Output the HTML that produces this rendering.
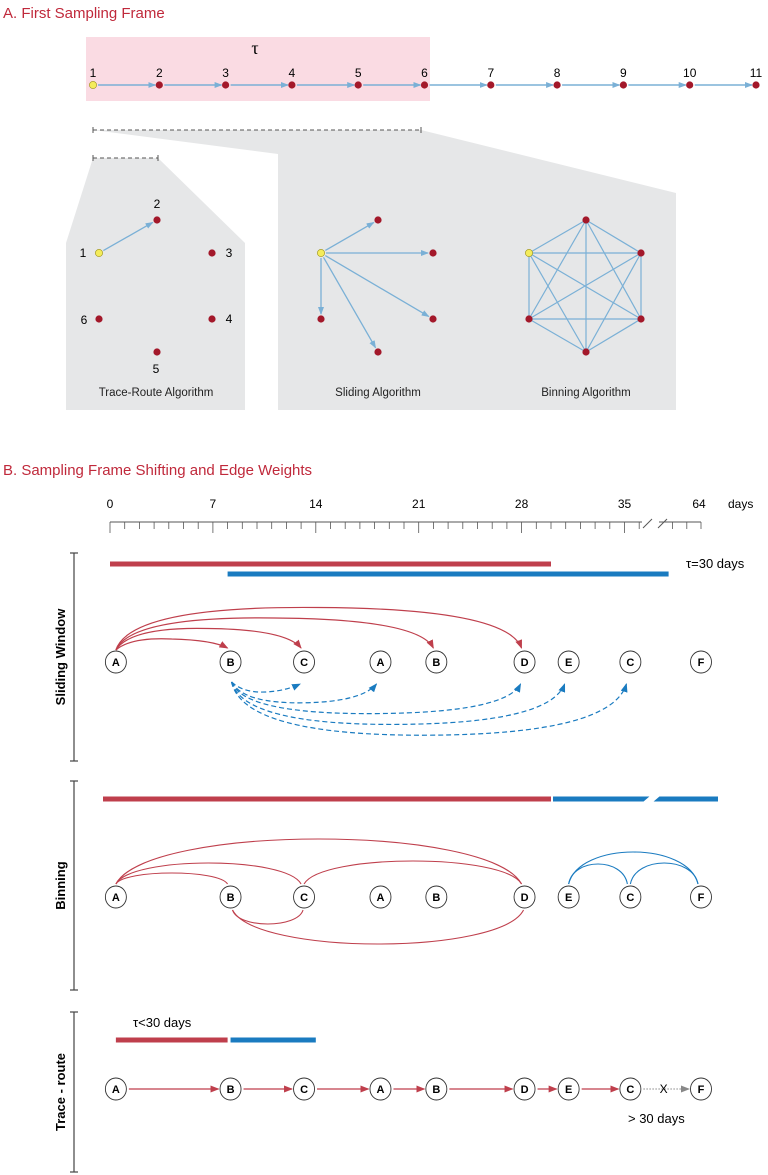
<!DOCTYPE html>
<html><head><meta charset="utf-8">
<style>
html,body{margin:0;padding:0;background:#fff;}
svg{display:block;font-family:"Liberation Sans",sans-serif;}
</style></head>
<body>
<svg id="fig" width="768" height="1175" viewBox="0 0 768 1175" xmlns="http://www.w3.org/2000/svg">
<defs>
<marker id="ab" markerWidth="8" markerHeight="6" refX="7" refY="3" orient="auto" markerUnits="userSpaceOnUse"><path d="M0,0 L8,3 L0,6 z" fill="#7ab0d6"/></marker>
<marker id="ar" markerWidth="9" markerHeight="7" refX="8" refY="3.5" orient="auto" markerUnits="userSpaceOnUse"><path d="M0,0 L9,3.5 L0,7 z" fill="#bf3f4c"/></marker>
<marker id="ad" markerWidth="9" markerHeight="7" refX="8" refY="3.5" orient="auto" markerUnits="userSpaceOnUse"><path d="M0,0 L9,3.5 L0,7 z" fill="#1a7bc0"/></marker>
<marker id="ag" markerWidth="9" markerHeight="7" refX="8" refY="3.5" orient="auto" markerUnits="userSpaceOnUse"><path d="M0,0 L9,3.5 L0,7 z" fill="#888"/></marker>
</defs>
<text x="3" y="18" font-size="15" fill="#c0293b">A.  First Sampling Frame</text>
<rect x="86" y="37" width="344" height="64" fill="#fadbe3"/>
<text x="255" y="54" font-size="18" font-family="Liberation Serif" text-anchor="middle">τ</text>
<polygon points="93,158 158,158 245,243 245,410 66,410 66,243" fill="#e6e7e8"/>
<polygon points="93,130 421,130 676,193 676,410 278,410 278,154" fill="#e6e7e8"/>
<g id="gA"></g>
<g id="gB"></g>
</svg>
<script>
// ---- Panel A data ----
const seqLabels = ['1','2','3','4','5','6','7','8','9','10','11'];
const traceLabels = ['1','2','3','4','5','6'];
// ---- Panel B data ----
const tickDays = [0,7,14,21,28,35,64];
const nodeLabels = ['A','B','C','A','B','D','E','C','F'];
const nodeDays = [0.4,8.2,13.2,18.4,22.2,28.2,31.2,35.4,64];
const slideRedTargets = [1,2,4,5];
const slideBlueTargets = [2,3,5,6,7];
const binTopRed = [[0,1],[0,2],[0,5],[2,5]];
const binBotRed = [[1,2],[1,5]];
const binBlue = [[6,7],[7,8],[6,8]];
const sliderBars = [[0,30],[8,38]];
const traceBars = [[0.4,8],[8.2,14]];

const NS='http://www.w3.org/2000/svg';
function mk(parent,tag,attrs,txt){const e=document.createElementNS(NS,tag);for(const k in attrs)e.setAttribute(k,attrs[k]);if(txt!==undefined)e.textContent=txt;parent.appendChild(e);return e;}
const gA=document.getElementById('gA'), gB=document.getElementById('gB');
const BL='#7ab0d6', RD='#bf3f4c', BU='#1a7bc0', NODE='#a3182a';

const sx=i=>93+i*66.3;
seqLabels.forEach((l,i)=>{
  if(i<seqLabels.length-1){const a=mk(gA,'line',{x1:sx(i)+5,y1:85,x2:sx(i+1)-4,y2:85,stroke:BL,'stroke-width':1.5,'marker-end':'url(#ab)'});}
});
seqLabels.forEach((l,i)=>{
  const c=mk(gA,'circle',{cx:sx(i),cy:85,r:3.6,fill:i===0?'#f4ec5a':NODE,stroke:i===0?'#9a8f10':'none','stroke-width':0.6});
  
  const t=mk(gA,'text',{x:sx(i),y:77,'font-size':12,'text-anchor':'middle'},l);
  
});
function dash(x1,x2,y){const l=mk(gA,'line',{x1,y1:y,x2,y2:y,stroke:'#555','stroke-width':1,'stroke-dasharray':'4,3'});
 mk(gA,'line',{x1,y1:y-3,x2:x1,y2:y+3,stroke:'#555'});mk(gA,'line',{x1:x2,y1:y-3,x2:x2,y2:y+3,stroke:'#555'});}
dash(93,421,130);dash(93,158,158);

function hex(cx){return [[cx-57,253],[cx,220],[cx+55,253],[cx+55,319],[cx,352],[cx-57,319]];}
const tr=[[99,253],[157,220],[212,253],[212,319],[157,352],[99,319]];
const sl=[[321,253],[378,220],[433,253],[433,319],[378,352],[321,319]];
const bn=hex(586);
function nodes(pts){pts.forEach((p,i)=>{const c=mk(gA,'circle',{cx:p[0],cy:p[1],r:3.6,fill:i===0?'#f4ec5a':NODE,stroke:i===0?'#9a8f10':'none','stroke-width':0.6});});}
function shorten(a,b,d){const dx=b[0]-a[0],dy=b[1]-a[1],L=Math.hypot(dx,dy);return [a[0]+dx/L*d,a[1]+dy/L*d,b[0]-dx/L*d,b[1]-dy/L*d];}
{const s=shorten(tr[0],tr[1],5);const a=mk(gA,'line',{x1:s[0],y1:s[1],x2:s[2],y2:s[3],stroke:BL,'stroke-width':1.3,'marker-end':'url(#ab)'});}
for(let j=1;j<6;j++){const s=shorten(sl[0],sl[j],5);const a=mk(gA,'line',{x1:s[0],y1:s[1],x2:s[2],y2:s[3],stroke:BL,'stroke-width':1.3,'marker-end':'url(#ab)'});}
for(let i=0;i<6;i++)for(let j=i+1;j<6;j++){const a=mk(gA,'line',{x1:bn[i][0],y1:bn[i][1],x2:bn[j][0],y2:bn[j][1],stroke:BL,'stroke-width':1.2});}
nodes(tr);nodes(sl);nodes(bn);
const trLab=[[83,257],[157,208],[229,257],[229,323],[156,373],[84,324]];
traceLabels.forEach((l,i)=>{const t=mk(gA,'text',{x:trLab[i][0],y:trLab[i][1],'font-size':12,'text-anchor':'middle'},l);});
[['Trace-Route Algorithm',156],['Sliding Algorithm',378],['Binning Algorithm',586]].forEach(d=>{const t=mk(gA,'text',{x:d[1],y:396,'font-size':11.5,'text-anchor':'middle',fill:'#222'},d[0]);});

// ---- Panel B ----
const x=d=> d>=60 ? 701-(64-d)*14.2 : 110+d*14.7;
{const t=mk(gB,'text',{x:3,y:475,'font-size':15,fill:'#c0293b'},'B.  Sampling Frame Shifting and Edge Weights');}
{const a=mk(gB,'line',{x1:110,y1:522,x2:642,y2:522,stroke:'#555','stroke-width':1});}
mk(gB,'line',{x1:659,y1:522,x2:701,y2:522,stroke:'#555','stroke-width':1});
for(let d=0;d<=36;d++){const L=d%7===0?11:7;const t=mk(gB,'line',{x1:x(d),y1:522,x2:x(d),y2:522+L,stroke:'#555','stroke-width':0.8});}
for(let d=62;d<=64;d++){mk(gB,'line',{x1:x(d),y1:522,x2:x(d),y2:529,stroke:'#555','stroke-width':0.8});}
mk(gB,'line',{x1:643,y1:528,x2:652,y2:519,stroke:'#555'});mk(gB,'line',{x1:658,y1:528,x2:667,y2:519,stroke:'#555'});
tickDays.forEach(d=>{const t=mk(gB,'text',{x:x(d)+(d===64?-2:0),y:508,'font-size':12,'text-anchor':'middle'},String(d));});
{const t=mk(gB,'text',{x:728,y:508,'font-size':12},'days');}
function bracket(y1,y2,label){const l=mk(gB,'line',{x1:74,y1,x2:74,y2,stroke:'#444','stroke-width':1.2});
 mk(gB,'line',{x1:70,y1,x2:78,y2:y1,stroke:'#444','stroke-width':1.2});mk(gB,'line',{x1:70,y1:y2,x2:78,y2,stroke:'#444','stroke-width':1.2});
 const cy=(y1+y2)/2;const t=mk(gB,'text',{x:65,y:cy,'font-size':13,'font-weight':'bold','text-anchor':'middle',transform:`rotate(-90 65 ${cy})`},label);}
bracket(553,761,'Sliding Window');bracket(781,990,'Binning');bracket(1012,1172,'Trace - route');
function bar(d0,d1,y,c,name,dx0){const x0=x(d0)+(dx0||0);const r=mk(gB,'rect',{x:x0,y:y-2.5,width:x(d1)-x0,height:5,fill:c});}
bar(sliderBars[0][0],sliderBars[0][1],564,RD,'window-bar-1');
bar(sliderBars[1][0],sliderBars[1][1],574,BU,'window-bar-2');
{const t=mk(gB,'text',{x:686,y:568,'font-size':13},'τ=30 days');}
function drawNodes(y){nodeLabels.forEach((l,i)=>{const g=mk(gB,'g',{});
 mk(g,'ellipse',{cx:x(nodeDays[i]),cy:y,rx:10.5,ry:11,fill:'#fff',stroke:'#333','stroke-width':0.9});
 mk(g,'text',{x:x(nodeDays[i]),y:y+4,'font-size':11,'font-weight':'bold','text-anchor':'middle'},l);});}
const sy=662;
slideRedTargets.forEach((j,k)=>{const x0=x(nodeDays[0]),x1=x(nodeDays[j])-3;const peak=639-k*10.5;
 const p=mk(gB,'path',{d:`M${x0},650 Q${x0+15},${peak-2} ${(x0+x1)/2},${peak} Q${x1-15},${peak+1} ${x1},${sy-14}`,fill:'none',stroke:RD,'stroke-width':1.2,'marker-end':'url(#ar)'});});
slideBlueTargets.forEach((j,k)=>{const x0=x(nodeDays[1])+1,x1=x(nodeDays[j])-4;const bot=692+k*10.8;
 const p=mk(gB,'path',{d:`M${x0},${sy+20} Q${x0+12},${bot+1} ${(x0+x1)/2},${bot} Q${x1-15},${bot-1} ${x1},${sy+22}`,fill:'none',stroke:BU,'stroke-width':1.2,'stroke-dasharray':'5,3','marker-end':'url(#ad)'});});
drawNodes(sy);
// binning
const by=897;
bar(0,30,799,RD,'bin-bar-1',-7);
{const r=mk(gB,'rect',{x:x(30)+2,y:796.5,width:x(64)+17-x(30)-2,height:5,fill:BU});}
mk(gB,'polygon',{points:'643,802 650,796 660,796 653,802',fill:'#fff'});
const binArc=(pairs,up,col,peaks,name)=>pairs.forEach((pr,k)=>{const x0=x(nodeDays[pr[0]])+(up?0:2),x1=x(nodeDays[pr[1]])-(up?3:1);const y0=up?by-13:by+13;const pk=peaks[k];
 const cy=y0+(pk-y0)*4/3;const w=x1-x0;
 const p=mk(gB,'path',{d:`M${x0},${y0} C${x0+w*0.08},${cy} ${x1-w*0.08},${cy} ${x1},${y0}`,fill:'none',stroke:col,'stroke-width':1.1});});
binArc(binTopRed,true,RD,[873,863,839,861],'binning-red-edge');
binArc(binBotRed,false,RD,[924,944],'binning-red-edge');
binArc(binBlue,true,BU,[864,863,852],'binning-blue-edge');
drawNodes(by);
// trace route
const ty=1089;
{const t=mk(gB,'text',{x:133,y:1027,'font-size':13},'τ<30 days');}
bar(traceBars[0][0],traceBars[0][1],1040,RD,'trace-bar-1');
bar(traceBars[1][0],traceBars[1][1],1040,BU,'trace-bar-2');
for(let i=0;i<nodeLabels.length-1;i++){const x0=x(nodeDays[i])+13,x1=x(nodeDays[i+1])-12;const last=i===nodeLabels.length-2;
 const a=mk(gB,'line',{x1:x0,y1:ty,x2:x1,y2:ty,stroke:last?'#888':RD,'stroke-width':last?1:1.3,'stroke-dasharray':last?'1.5,1.5':'none','marker-end':last?'url(#ag)':'url(#ar)'});}
{const t=mk(gB,'text',{x:(x(nodeDays[7])+x(nodeDays[8]))/2-2,y:ty+4,'font-size':12,'text-anchor':'middle'},'X');}
drawNodes(ty);
{const t=mk(gB,'text',{x:628,y:1123,'font-size':13},'> 30 days');}
</script>
</body></html>
